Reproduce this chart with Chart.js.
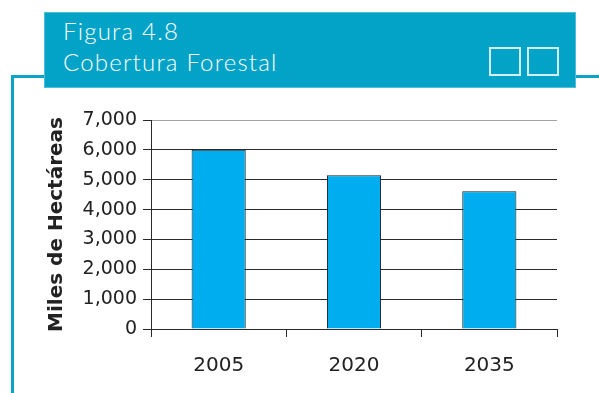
<!DOCTYPE html>
<html>
<head>
<meta charset="utf-8">
<script src="https://cdn.jsdelivr.net/npm/chart.js@4/dist/chart.umd.min.js"></script>
<style>
  html, body { margin: 0; padding: 0; background: #fff; }
  #page { position: relative; width: 599px; height: 393px; overflow: hidden; }
  #chart-wrap { position: absolute; left: 0; top: 0; width: 599px; height: 393px; }
  .rule { position: absolute; background: #0aa3c9; }
  #header {
    position: absolute; left: 44px; top: 12px; width: 532px; height: 76px;
    box-sizing: border-box; background: #03a2c7; border: 1px solid #4dbfdc;
  }
  #header .title {
    position: absolute; left: 18px; top: 2px; color: #fff;
    font-family: Lato, "Open Sans", sans-serif; font-weight: 300; font-size: 24px;
    letter-spacing: 1.2px; line-height: 31px; white-space: nowrap;
  }
  .square {
    position: absolute; top: 34px; width: 32px; height: 29px;
    box-sizing: border-box; border: 2px solid #d2eef6;
  }
</style>
</head>
<body>
<div id="page">
  <div id="chart-wrap"><canvas id="forest-chart"></canvas></div>

  <!-- frame lines around the figure -->
  <div class="rule" style="left:11px; top:75px; width:3px; height:318px;"></div>
  <div class="rule" style="left:11px; top:75px; width:34px; height:3px;"></div>
  <div class="rule" style="left:575px; top:75px; width:24px; height:3px;"></div>

  <div id="header">
    <div class="title">Figura 4.8<br>Cobertura Forestal</div>
    <div class="square" style="left:444px;"></div>
    <div class="square" style="left:482px;"></div>
  </div>
</div>

<script>
// Forest cover (thousands of hectares) by year
const years = ['2005', '2020', '2035'];
const coverage = [6000, 5150, 4610];
const yMax = 7000;
const yStep = 1000;

const darkLine = '#2a2a2a';
const lightLine = '#a3a3a3';

const ctx = document.getElementById('forest-chart').getContext('2d');
const forestChart = new Chart(ctx, {
    type: 'bar',
    data: {
        labels: years,
        datasets: [{
            label: 'Miles de Hectáreas',
            data: coverage,
            backgroundColor: '#00aeef',
            borderColor: '#1a1a1a',
            borderWidth: 1,
            barPercentage: 0.4,
            categoryPercentage: 1
        }]
    },
    options: {
        responsive: true,
        maintainAspectRatio: false,
        animation: false,
        layout: { padding: { top: 120, right: 42, left: 0, bottom: 0 } },
        plugins: {
            legend: { display: false },
            tooltip: { enabled: false }
        },
        scales: {
            x: {
                afterFit: function(scale) { scale.height = 64; },
                grid: {
                    offset: true,
                    tickLength: 8,
                    tickColor: darkLine,
                    // only the right edge of the plot gets a line
                    color: c => c.index === years.length ? lightLine : 'rgba(0,0,0,0)'
                },
                border: { color: darkLine, width: 1 },
                ticks: {
                    color: '#222',
                    padding: 17,
                    font: { family: 'DejaVu Sans', size: 20 }
                }
            },
            y: {
                min: 0,
                max: yMax,
                afterFit: function(scale) { scale.width = 151; },
                grid: {
                    tickLength: 8,
                    tickColor: darkLine,
                    color: c => c.tick && c.tick.value === yMax ? lightLine : darkLine
                },
                border: { color: darkLine, width: 1 },
                ticks: {
                    stepSize: yStep,
                    color: '#222',
                    padding: 6,
                    font: { family: 'DejaVu Sans', size: 19 },
                    callback: v => v.toLocaleString('en-US')
                },
                title: {
                    display: true,
                    text: 'Miles de Hectáreas',
                    color: '#222',
                    padding: { top: 45, bottom: 0 },
                    font: { family: 'DejaVu Sans', size: 20, weight: 'bold' }
                }
            }
        }
    }
});
</script>
</body>
</html>
